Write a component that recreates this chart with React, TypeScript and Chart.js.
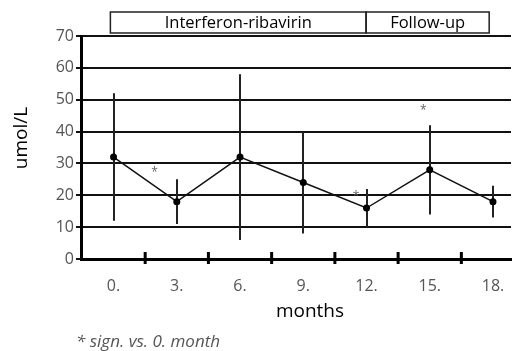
import React, { useEffect, useRef } from "react";
import { Chart, registerables } from "chart.js";
Chart.register(...registerables);

const months = [0, 3, 6, 9, 12, 15, 18];
const means = [32, 18, 32, 24, 16, 28, 18];
const lows = [12, 11, 6, 8, 10, 14, 13];
const highs = [52, 25, 58, 40, 22, 42, 23];
const sigMonths = [1.95, 11.5, 14.7];
const sigValues = [28, 20.5, 47.5];
const yTicks = [0, 10, 20, 30, 40, 50, 60, 70];
const phaseLabels = ["Interferon-ribavirin", "Follow-up"];
const phaseBounds = [-0.15, 11.98, 17.82];
const boundaryTicks = [1.5, 4.5, 7.5, 10.5, 13.5, 16.5];
const yTitle = "umol/L";
const xTitle = "months";
const footnote = "* sign. vs. 0. month";

const FONT = "'Open Sans', 'DejaVu Sans', sans-serif";

const overlay = {
  id: "overlay",
  beforeDatasetsDraw(chart: any) {
    const { ctx, scales } = chart;
    const x = scales.x, y = scales.y;
    ctx.save();
    ctx.strokeStyle = "#222";
    ctx.lineWidth = 2;
    months.forEach((m, i) => {
      const px = Math.round(x.getPixelForValue(m));
      ctx.beginPath();
      ctx.moveTo(px, y.getPixelForValue(lows[i]));
      ctx.lineTo(px, y.getPixelForValue(highs[i]));
      ctx.stroke();
    });
    ctx.restore();
  },
  afterDraw(chart: any) {
    const { ctx, scales } = chart;
    const x = scales.x, y = scales.y;
    ctx.save();
    ctx.strokeStyle = "#000";
    ctx.lineWidth = 3;
    const y0 = y.getPixelForValue(0);
    boundaryTicks.forEach((b) => {
      const px = x.getPixelForValue(b);
      ctx.beginPath();
      ctx.moveTo(px, y0 - 7);
      ctx.lineTo(px, y0 + 5);
      ctx.stroke();
    });
    ctx.fillStyle = "#666";
    ctx.font = `12px ${FONT}`;
    ctx.textAlign = "center";
    ctx.textBaseline = "middle";
    sigMonths.forEach((m, i) => {
      ctx.fillText("*", x.getPixelForValue(m), y.getPixelForValue(sigValues[i]) + 3);
    });
    const top = 12, bot = 33;
    ctx.strokeStyle = "#222";
    ctx.lineWidth = 1.5;
    ctx.fillStyle = "#000";
    ctx.font = `16.5px ${FONT}`;
    phaseLabels.forEach((lab, i) => {
      const l = x.getPixelForValue(phaseBounds[i]);
      const r = x.getPixelForValue(phaseBounds[i + 1]);
      ctx.strokeRect(l, top, r - l, bot - top);
      ctx.fillText(lab, (l + r) / 2, (top + bot) / 2 + 1);
    });
    ctx.font = `19px ${FONT}`;
    ctx.fillStyle = "#000";
    ctx.fillText(xTitle, 310, 312);
    ctx.save();
    ctx.translate(22, 138);
    ctx.rotate(-Math.PI / 2);
    ctx.fillText(yTitle, 0, 0);
    ctx.restore();
    ctx.font = `italic 17px ${FONT}`;
    ctx.fillStyle = "#555";
    ctx.textAlign = "left";
    ctx.textBaseline = "alphabetic";
    ctx.fillText(footnote, 76, 347);
    ctx.restore();
  },
};

export default function App() {
  const ref = useRef<HTMLCanvasElement>(null);
  useEffect(() => {
    const chart = new Chart(ref.current!, {
      type: "line",
      data: {
        datasets: [
          {
            data: months.map((m, i) => ({ x: m, y: means[i] })),
            borderColor: "#111",
            borderWidth: 1.5,
            backgroundColor: "#000",
            pointRadius: 3.5,
            pointBorderWidth: 0,
            pointStyle: "circle",
            tension: 0,
          },
        ],
      },
      options: {
        responsive: false,
        animation: false,
        events: [],
        layout: { padding: { top: 36, left: 0, right: 0, bottom: 0 } },
        plugins: { legend: { display: false }, tooltip: { enabled: false } },
        scales: {
          x: {
            type: "linear",
            min: -1.544,
            max: 18.855,
            afterFit: (s: any) => { s.height = 92; s.paddingLeft = 0; s.paddingRight = 0; },
            afterBuildTicks: (s: any) => { s.ticks = months.map((v) => ({ value: v })); },
            grid: { display: false, drawTicks: false },
            border: { display: true, color: "#000", width: 3 },
            ticks: {
              callback: (v: any) => `${v}.`,
              color: "#555",
              font: { family: FONT, size: 16 },
              padding: 18,
              maxRotation: 0,
              autoSkip: false,
            },
          },
          y: {
            min: 0,
            max: 70,
            afterFit: (s: any) => { s.width = 81; s.paddingTop = 0; s.paddingBottom = 0; },
            afterBuildTicks: (s: any) => { s.ticks = yTicks.map((v) => ({ value: v })); },
            grid: { color: "#111", lineWidth: 2, tickLength: 5, drawTicks: true },
            border: { display: true, color: "#000", width: 3 },
            ticks: {
              color: "#555",
              font: { family: FONT, size: 16 },
              padding: 2,
            },
          },
        },
      },
      plugins: [overlay],
    });
    return () => chart.destroy();
  }, []);
  return (
    <div style={{ position: "fixed", left: 0, top: 0, width: 515, height: 351, background: "#fff" }}>
      <canvas ref={ref} width={515} height={351} style={{ display: "block", width: 515, height: 351 }} />
    </div>
  );
}
